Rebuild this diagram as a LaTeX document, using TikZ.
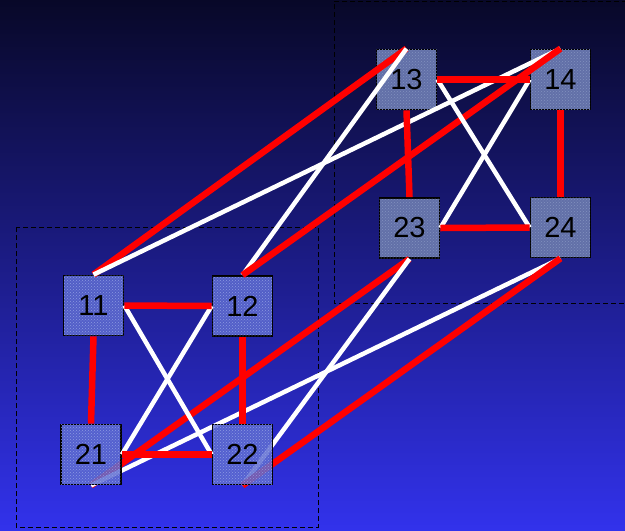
\documentclass[tikz,border=0pt]{standalone}
\usepackage{fontspec}
\setmainfont{Liberation Sans}
\usetikzlibrary{patterns}
\begin{document}
\begin{tikzpicture}[x=1pt,y=-1pt,
  box/.style={draw=black,line width=1.8pt,minimum size=60pt,inner sep=0pt,font=\fontsize{29}{29}\selectfont},
  upbox/.style={box,fill=upfill,postaction={pattern=crosshatch dots,pattern color=uptex}},
  lowbox/.style={box,fill=lowfill,fill opacity=0.85,text opacity=1,postaction={pattern=crosshatch dots,pattern color=lowtex}},
  redl/.style={draw=linered,line width=6.5pt},
  whitel/.style={draw=white,line width=4.5pt},
  frame/.style={draw=black,line width=1pt,dash pattern=on 5pt off 3pt}]
\definecolor{bgtop}{RGB}{8,8,40}
\definecolor{bgmid}{RGB}{28,28,135}
\definecolor{bgbot}{RGB}{50,50,236}
\definecolor{upfill}{RGB}{98,112,168}
\definecolor{uptex}{RGB}{130,145,190}
\definecolor{lowfill}{RGB}{92,106,208}
\definecolor{lowtex}{RGB}{150,165,230}
\definecolor{linered}{RGB}{255,0,0}
\useasboundingbox (0,0) rectangle (625,531);
\shade[top color=bgtop,bottom color=bgbot,middle color=bgmid] (0,0) rectangle (625,531);
% frames
\draw[frame] (627,1) -- (334,1) -- (334,303) -- (627,303);
\draw[frame] (16,227) rectangle (318,527);
% upper boxes
\node[upbox] (n13) at (406.5,79.5) {};
\node[upbox] (n14) at (560.5,79.5) {};
\node[upbox] (n23) at (409.5,228) {};
\node[upbox] (n24) at (560.5,227.5) {};
% lower box positions
\coordinate (c11) at (93.5,305.5);
\coordinate (c12) at (242.5,306);
\coordinate (c21) at (91,454.5);
\coordinate (c22) at (242.5,454.5);
\node[lowbox] (n11) at (c11) {};
\node[lowbox] (n12) at (c12) {};
% long connectors
\draw[redl] (n11.north) -- (n13.north);
\draw[whitel] (n11.north) -- (n14.north);
\draw[whitel] (n12.north) -- (n13.north);
\draw[redl] (n12.north) -- (n14.north);
\node[box,draw=none] (n21) at (c21) {};
\node[box,draw=none] (n22) at (c22) {};
\draw[redl] (n21.south) -- (n23.south);
\draw[whitel] (n21.south) -- (n24.south);
\draw[whitel] (n22.south) -- (n23.south);
\draw[redl] (n22.south) -- (n24.south);
\node[lowbox] at (c21) {};
\node[lowbox] at (c22) {};
% short connectors lower cluster
\draw[whitel] (n11.east) -- (n22.west);
\draw[whitel] (n12.west) -- (n21.east);
\draw[redl] (n11.east) -- (n12.west);
\draw[redl] (n21.east) -- (n22.west);
\draw[redl] (n11.south) -- (n21.north);
\draw[redl] (n12.south) -- (n22.north);
% short connectors upper cluster
\draw[whitel] (n13.east) -- (n24.west);
\draw[whitel] (n14.west) -- (n23.east);
\draw[redl] (n13.east) -- (n14.west);
\draw[redl] (n23.east) -- (n24.west);
\draw[redl] (n13.south) -- (n23.north);
\draw[redl] (n14.south) -- (n24.north);
% labels
\foreach \n in {11,12,21,22,13,14,23,24}
  \node[font=\fontsize{29}{29}\selectfont] at (n\n) {\n};
\end{tikzpicture}
\end{document}
